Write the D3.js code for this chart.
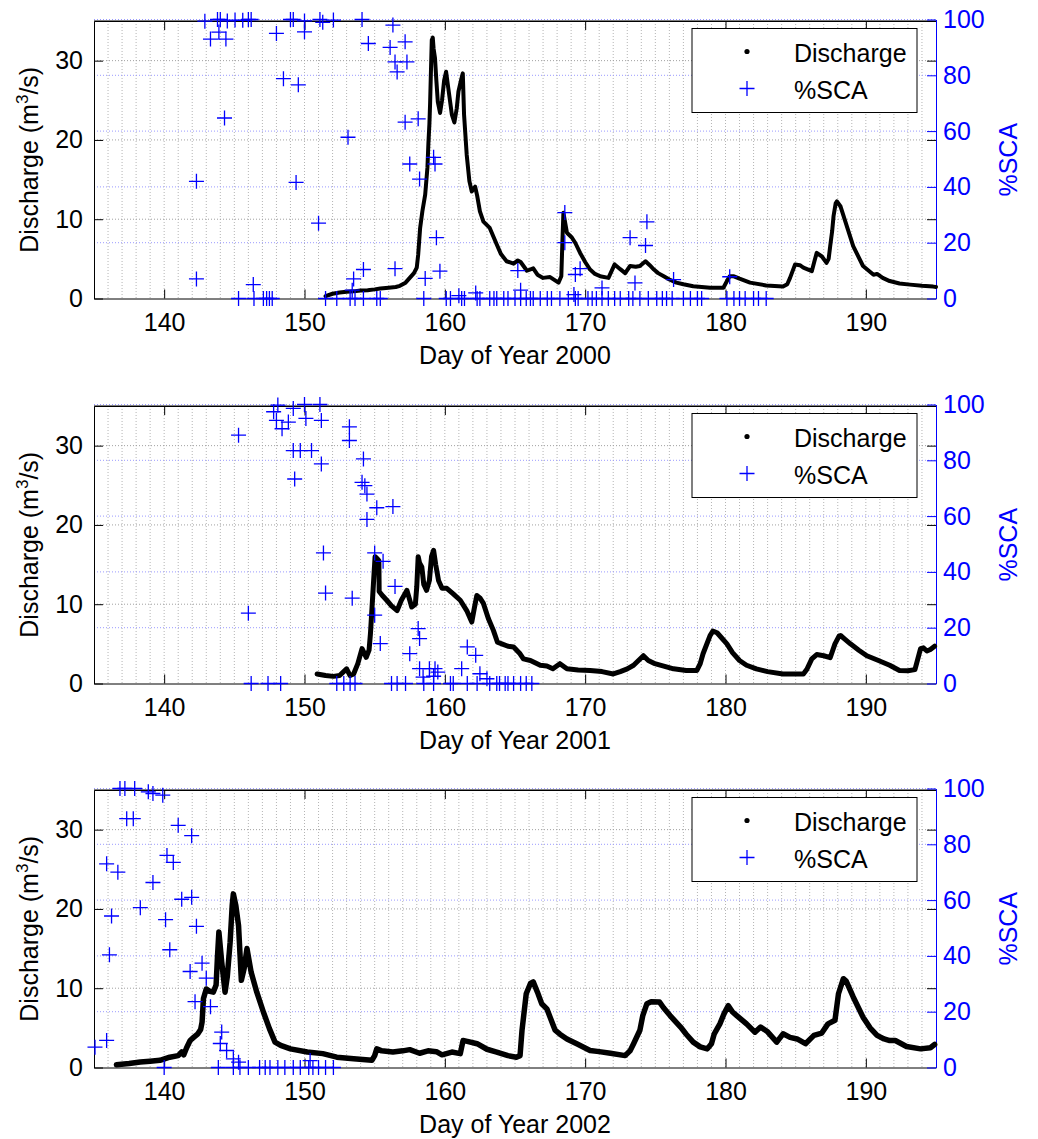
<!DOCTYPE html>
<html>
<head>
<meta charset="utf-8">
<script src="https://cdn.jsdelivr.net/npm/d3@7"></script>
<style>
  body { margin: 0; background: #fff; }
  text { font-family: "Liberation Sans", Arial, sans-serif; }
</style>
</head>
<body>
<script>
// discharge (day of year, m3/s)
var discharge2000 = [
  [151.5,0.3],[152.0,0.6],[152.5,0.75],[153.0,0.85],[153.5,0.9],[154.0,1.0],[154.5,1.05],[155.0,1.15],
  [155.4,1.25],[156.0,1.35],[156.5,1.45],[156.8,1.6],[157.2,2.0],[157.5,2.6],[157.8,3.2],[158.0,3.9],
  [158.1,5.5],[158.24,8.9],[158.4,11.0],[158.6,13.1],[158.76,16.5],[158.83,19.6],[158.9,22.0],[158.95,24.6],
  [159.0,28.0],[159.07,32.6],[159.14,32.9],[159.2,31.5],[159.3,30.3],[159.4,27.4],[159.5,24.8],[159.66,23.4],
  [159.8,25.0],[159.95,27.5],[160.09,28.6],[160.25,26.5],[160.5,23.2],[160.68,22.2],[160.85,24.0],[160.97,26.1],
  [161.15,27.5],[161.28,28.4],[161.37,23.2],[161.56,18.1],[161.75,14.8],[161.92,13.5],[162.16,14.1],[162.3,13.0],
  [162.5,11.0],[162.75,9.7],[163.2,8.9],[163.7,6.8],[164.0,5.6],[164.4,4.7],[164.9,4.4],[165.2,4.8],
  [165.4,4.6],[165.85,3.5],[166.3,3.8],[166.6,3.0],[167.0,2.6],[167.5,2.7],[168.1,2.0],[168.3,2.8],
  [168.38,7.3],[168.45,10.8],[168.7,8.3],[169.05,7.7],[169.3,7.0],[169.64,5.75],[170.0,4.6],[170.35,3.65],
  [170.7,3.1],[171.07,2.8],[171.66,2.6],[172.1,4.3],[172.5,3.7],[172.85,3.2],[173.2,4.1],[173.6,4.0],
  [173.9,4.1],[174.3,4.7],[174.6,4.2],[174.9,3.65],[175.2,3.2],[175.6,2.8],[176.0,2.4],[176.5,2.0],
  [177.0,1.8],[177.7,1.55],[178.3,1.45],[178.9,1.35],[179.5,1.35],[179.85,1.35],[180.1,2.2],[180.3,2.8],
  [180.6,2.8],[181.0,2.5],[181.75,2.0],[182.9,1.65],[184.1,1.5],[184.4,1.8],[184.6,2.6],[184.96,4.3],
  [185.3,4.2],[185.55,3.9],[186.15,3.45],[186.35,4.8],[186.5,5.75],[186.87,5.3],[187.2,4.5],[187.35,5.0],
  [187.46,6.6],[187.6,8.5],[187.7,10.4],[187.85,12.0],[187.94,12.25],[188.2,11.6],[188.65,9.1],[189.1,6.6],
  [189.8,4.1],[190.55,3.0],[190.8,3.1],[191.2,2.6],[191.7,2.2],[192.4,1.9],[193.15,1.75],[194.0,1.6],
  [194.8,1.5],[195.0,1.45]
];
var discharge2001 = [
  [150.9,1.2],[151.5,1.0],[152.06,0.9],[152.5,1.0],[153.0,1.85],[153.25,1.0],[153.5,1.2],[153.8,2.5],
  [154.1,4.4],[154.4,3.3],[154.6,4.2],[154.7,6.3],[154.9,12.2],[155.03,16.0],[155.15,15.8],[155.3,15.5],
  [155.32,11.6],[155.6,11.0],[155.86,10.5],[156.2,9.8],[156.6,9.2],[156.9,10.5],[157.3,11.75],[157.64,9.65],
  [157.9,10.0],[158.0,12.2],[158.1,16.0],[158.2,15.2],[158.36,14.7],[158.5,12.5],[158.7,11.75],[158.9,13.0],
  [159.05,16.0],[159.2,16.8],[159.35,15.0],[159.55,13.0],[159.8,12.0],[160.14,12.0],[160.6,11.3],[161.1,10.5],
  [161.56,9.2],[161.92,7.75],[162.1,9.5],[162.28,11.1],[162.5,10.8],[162.75,10.1],[163.1,8.2],[163.46,6.7],
  [163.75,5.2],[164.06,5.0],[164.5,4.7],[164.9,4.6],[165.36,3.75],[165.6,3.1],[166.1,2.9],[166.8,2.3],
  [167.27,2.2],[167.7,1.85],[168.2,2.5],[168.7,1.85],[169.5,1.7],[170.35,1.65],[171.2,1.5],[172.0,1.2],
  [172.5,1.5],[173.0,1.85],[173.45,2.3],[173.8,2.9],[174.15,3.5],[174.5,2.9],[174.9,2.55],[175.6,2.2],
  [176.3,1.85],[177.2,1.65],[177.96,1.65],[178.2,2.5],[178.4,3.75],[178.9,6.05],[179.1,6.6],[179.4,6.4],
  [179.7,5.8],[180.1,5.0],[180.5,3.9],[181.0,2.9],[181.5,2.3],[182.2,1.85],[183.0,1.5],[184.1,1.2],
  [185.0,1.2],[185.55,1.2],[185.8,1.8],[186.15,3.1],[186.5,3.65],[187.0,3.5],[187.46,3.25],[187.8,5.0],
  [188.1,6.0],[188.2,6.05],[188.5,5.6],[188.9,5.0],[189.5,4.2],[190.07,3.5],[190.9,2.9],[191.7,2.3],
  [192.4,1.65],[193.0,1.6],[193.5,1.75],[193.9,4.4],[194.1,4.5],[194.35,4.1],[194.6,4.3],[194.9,4.7]
];
var discharge2002 = [
  [136.6,0.35],[137.5,0.5],[138.3,0.7],[139.0,0.8],[139.7,0.9],[140.4,1.3],[141.0,1.5],[141.25,1.95],
  [141.4,1.6],[141.6,2.5],[141.85,3.4],[142.1,3.8],[142.4,4.25],[142.6,4.8],[142.7,5.7],[142.8,8.7],
  [143.0,9.9],[143.25,9.6],[143.5,9.5],[143.7,10.4],[143.8,14.0],[143.9,17.1],[144.1,13.3],[144.34,9.5],
  [144.5,11.5],[144.7,15.8],[144.85,20.5],[144.93,21.9],[145.1,20.5],[145.3,17.9],[145.5,11.0],[145.7,12.5],
  [145.9,15.0],[146.2,12.0],[146.6,9.5],[147.07,7.0],[147.5,4.9],[147.9,3.2],[148.3,2.8],[149.0,2.35],
  [150.2,1.95],[151.3,1.75],[152.3,1.3],[153.5,1.1],[154.8,0.9],[155.0,1.5],[155.15,2.35],[155.5,2.1],
  [156.3,1.95],[157.0,2.1],[157.5,2.25],[158.2,1.8],[158.8,2.1],[159.4,2.0],[159.8,1.6],[160.5,1.95],
  [161.1,1.75],[161.3,3.4],[161.6,3.3],[162.3,3.0],[163.0,2.3],[163.7,1.95],[164.5,1.5],[165.1,1.3],
  [165.36,1.5],[165.5,4.7],[165.8,9.3],[166.1,10.6],[166.3,10.8],[166.6,9.5],[166.9,8.05],[167.27,7.4],
  [167.86,4.7],[168.2,4.2],[168.7,3.6],[169.4,3.0],[170.35,2.15],[171.0,2.0],[171.8,1.8],[172.85,1.5],
  [173.2,2.1],[173.45,3.0],[173.9,4.7],[174.1,6.5],[174.4,8.05],[174.7,8.3],[175.3,8.25],[175.6,7.5],
  [176.05,6.55],[176.8,5.1],[177.2,4.2],[177.7,3.2],[178.2,2.6],[178.7,2.35],[179.0,3.0],[179.2,4.25],
  [179.6,5.5],[179.9,6.8],[180.2,7.8],[180.5,7.0],[180.8,6.55],[181.5,5.5],[182.1,4.45],[182.5,5.1],
  [183.0,4.5],[183.65,3.2],[184.1,4.25],[184.6,3.8],[185.1,3.6],[185.7,3.0],[186.3,4.05],[186.86,4.35],
  [187.3,5.5],[187.8,5.95],[188.05,9.3],[188.4,11.2],[188.6,10.9],[189.1,8.9],[189.8,6.35],[190.3,5.0],
  [190.8,4.05],[191.3,3.6],[191.7,3.4],[192.1,3.4],[192.9,2.65],[193.9,2.35],[194.6,2.5],[194.9,2.9]
];

// snow covered area (day of year, %)
var sca2000 = [
  [142.3,42],[142.3,7],[142.9,99.4],[143.3,93],[143.8,100],[143.9,95.5],[144.0,100],[144.4,93],[144.3,64.7],
  [144.5,99.5],[145.05,99.8],[145.6,99.7],[146.0,100],[146.2,100],[145.3,0],[146.35,5],[146.4,0],[147.07,0],
  [147.3,0],[147.5,0],[147.7,0],[148.0,95],[148.5,78.8],[149.0,100],[149.2,100],[149.56,76.6],[149.4,41.6],
  [150.0,95.6],[150.0,99.5],[151.0,27],[151.1,100],[151.3,99],[151.5,0],[152.06,99.8],[152.3,0],[153.1,57.8],
  [153.5,7],[153.4,3],[153.25,0],[153.6,0],[154.2,10.4],[154.1,100],[154.55,91.4],[154.2,0],[155.15,0],
  [155.4,0],[156.3,98],[156.1,90],[156.45,84.8],[156.6,81.2],[156.45,10.7],[157.17,92],[157.3,84.8],
  [157.17,63.2],[157.5,48.2],[158.2,42.8],[158.1,64.4],[158.6,7.2],[158.5,0],[159.2,50.6],[159.3,48.2],
  [159.4,21.8],[159.65,9.8],[160.1,0],[160.4,0],[161.0,1],[161.2,0],[161.4,0],[162.2,2],[162.3,0],[162.5,0],
  [163.2,0],[163.5,0],[163.7,0],[164.2,0],[164.5,0],[165.0,0],[165.2,10],[165.4,3],[165.4,0],[165.8,0],
  [166.1,0],[166.3,0],[166.8,0],[167.3,0],[167.6,0],[168.2,0],[168.55,30.8],[168.55,20],[168.8,0],
  [169.2,1.4],[169.3,8.6],[169.64,10.7],[169.3,0],[169.5,0],[170.2,0],[170.5,0],[170.8,0],[171.2,3.8],
  [171.2,0],[171.65,0],[172.1,0],[172.5,0],[173.1,0],[173.2,21.8],[173.4,0],[173.55,5.6],[173.9,0],
  [174.3,19],[174.4,27.5],[174.5,0],[175.1,0],[175.5,0],[175.8,0],[176.2,0],[176.3,6.8],[177.0,0],
  [177.5,0],[178.0,0],[178.3,0],[180.1,0],[180.3,7.8],[180.6,0],[181.0,0],[181.4,0],[182.0,0],[182.35,0],
  [182.9,0]
];
var sca2001 = [
  [145.3,89],[146.0,25.2],[146.2,0],[147.4,0],[148.3,0],[147.8,97.4],[148.0,94.3],[148.1,99.8],[148.4,91.3],
  [148.85,93.7],[149.2,98.6],[149.2,83.5],[149.3,73.3],[149.7,83.5],[150.0,100],[150.1,95],[150.5,83.5],
  [151.1,100],[151.2,94.3],[151.2,78.7],[151.35,46.8],[151.5,32.4],[153.2,92],[153.2,87.1],[153.4,30.6],
  [152.3,0],[152.8,0],[153.25,0],[153.6,0],[154.2,80.5],[154.1,72.1],[154.3,70.9],[154.45,67.9],[154.45,58.8],
  [155.15,63],[156.3,63.4],[155.0,46.8],[155.6,43.8],[155.0,24.5],[155.4,14.3],[156.45,34.8],[157.5,10.7],
  [158.1,19.7],[158.2,16.1],[158.2,5.3],[158.45,2.3],[158.9,5.3],[159.3,5.3],[159.5,4.1],[159.2,2.6],
  [161.2,5.3],[161.6,13.1],[162.2,10.1],[162.5,3.5],[163.0,1.7],[156.2,0],[156.6,0],[157.2,0],[158.5,0],
  [159.2,0],[160.4,0],[160.6,0],[161.6,0],[162.3,0],[163.2,0],[163.7,0],[163.9,0],[164.3,0],[164.5,0],
  [164.9,0],[165.4,0],[165.8,0],[166.2,0]
];
var sca2002 = [
  [135.07,7.3],[135.9,9.7],[135.9,73],[136.1,40.4],[136.25,54.3],[136.7,70],[136.85,100],[137.2,100],
  [137.33,89.2],[137.9,100],[137.8,89.2],[138.3,57.3],[138.87,98.8],[139.2,98.2],[139.2,66.3],[139.9,97.6],
  [140.1,53],[140.0,0],[140.2,76],[140.4,42.2],[140.65,73.5],[141.0,86.8],[141.25,60.3],[141.96,83.1],
  [141.96,61],[142.3,50.6],[141.85,34.4],[142.2,23.6],[142.7,37.4],[143.0,32],[143.3,21.8],[144.1,12.7],
  [144.0,8.6],[144.45,6.1],[144.93,3.1],[145.3,1.9],[143.86,0],[144.93,0],[145.4,0],[146.0,0],[146.8,0],
  [147.2,0],[147.54,0],[148.1,0],[148.6,0],[149.2,0],[149.7,0],[150.3,0],[150.6,0],[151.0,0],[151.5,0],
  [152.06,0],[150.4,2.5]
];

var years = ["2000", "2001", "2002"];
var dischargeSets = [discharge2000, discharge2001, discharge2002];
var scaSets = [sca2000, sca2001, sca2002];
var dayTicks = [140, 150, 160, 170, 180, 190];
var qTicks = [0, 10, 20, 30];
var scaTicks = [0, 20, 40, 60, 80, 100];

var w = 1038, h = 1139;
var left = 94, pw = 842, ph = 277.5;
var panelTops = [21, 406, 790];
var lineWidths = [4, 5, 5.5];
var blue = "#0000ff";

var svg = d3.select("body").append("svg")
  .attr("width", w).attr("height", h);
svg.append("rect").attr("width", w).attr("height", h).attr("fill", "#fff");

var xScale = d3.scaleLinear().domain([135, 195]).range([0, pw]);
var yQ = d3.scaleLinear().domain([0, 35]).range([ph, 0]);
var yS = d3.scaleLinear().domain([0, 100]).range([ph, -1.5]);

var plus = "M-7.5,0H7.5M0,-7.5V7.5";

years.forEach(function(yr, i) {
  var g = svg.append("g")
    .attr("transform", "translate(" + left + "," + panelTops[i] + ")");

  // grid, one line a day
  g.append("g").selectAll("line")
    .data(d3.range(136, 195))
    .enter().append("line")
    .attr("x1", function(d) { return xScale(d); })
    .attr("x2", function(d) { return xScale(d); })
    .attr("y1", 0).attr("y2", ph)
    .attr("stroke", "#b4b4b4").attr("stroke-width", 1)
    .attr("stroke-dasharray", "1,2");

  g.append("g").selectAll("line")
    .data([10, 20, 30])
    .enter().append("line")
    .attr("x1", 0).attr("x2", pw)
    .attr("y1", function(d) { return yQ(d); })
    .attr("y2", function(d) { return yQ(d); })
    .attr("stroke", "#a0a0a0").attr("stroke-dasharray", "1,2");

  g.append("g").selectAll("line")
    .data([20, 40, 60, 80, 100])
    .enter().append("line")
    .attr("x1", 0).attr("x2", pw)
    .attr("y1", function(d) { return yS(d); })
    .attr("y2", function(d) { return yS(d); })
    .attr("stroke", "#9a9aff").attr("stroke-dasharray", "1,2");

  // axes
  var xAxis = g.append("g")
    .attr("transform", "translate(0," + ph + ")")
    .call(d3.axisBottom(xScale).tickValues(dayTicks).tickSize(-9).tickSizeOuter(0).tickPadding(15));
  var xTop = g.append("g")
    .call(d3.axisTop(xScale).tickValues(dayTicks).tickSize(-9).tickSizeOuter(0).tickFormat(""));
  var yAxis = g.append("g")
    .call(d3.axisLeft(yQ).tickValues(qTicks).tickSize(-9).tickSizeOuter(0).tickPadding(11));
  var yRightQ = g.append("g")
    .attr("transform", "translate(" + pw + ",0)")
    .call(d3.axisRight(yQ).tickValues([10, 20, 30]).tickSize(-9).tickSizeOuter(0).tickFormat(""));
  yRightQ.select(".domain").remove();
  g.append("line").attr("x1", 0).attr("x2", pw).attr("y1", 0).attr("y2", 0).attr("stroke", "#000");

  [xAxis, xTop, yAxis, yRightQ].forEach(function(a) {
    a.selectAll("path, line").attr("stroke", "#000");
    a.selectAll("text").attr("fill", "#000").style("font-size", "25px")
      .style("font-family", "Liberation Sans, Arial, sans-serif");
  });

  var sAxis = g.append("g")
    .attr("transform", "translate(" + pw + ",0)")
    .call(d3.axisRight(yS).tickValues(scaTicks).tickSize(-9).tickSizeOuter(0).tickPadding(7));
  sAxis.selectAll("path, line").attr("stroke", blue);
  sAxis.selectAll("text").attr("fill", blue).style("font-size", "25px")
    .style("font-family", "Liberation Sans, Arial, sans-serif");

  // discharge
  var line = d3.line()
    .x(function(d) { return xScale(d[0]); })
    .y(function(d) { return yQ(d[1]); });
  g.append("path")
    .datum(dischargeSets[i])
    .attr("d", line)
    .attr("fill", "none")
    .attr("stroke", "#000")
    .attr("stroke-width", lineWidths[i])
    .attr("stroke-linejoin", "round")
    .attr("stroke-linecap", "round");

  // %SCA
  g.append("g").selectAll("path")
    .data(scaSets[i])
    .enter().append("path")
    .attr("transform", function(d) { return "translate(" + xScale(d[0]) + "," + yS(d[1]) + ")"; })
    .attr("d", plus)
    .attr("fill", "none")
    .attr("stroke", blue)
    .attr("stroke-width", 1.3);

  // labels
  g.append("text")
    .attr("x", pw / 2).attr("y", ph + 65)
    .attr("text-anchor", "middle")
    .style("font-size", "25px")
    .text("Day of Year " + yr);

  var lab = g.append("text")
    .attr("transform", "translate(-56," + (ph / 2) + ") rotate(-90)")
    .attr("text-anchor", "middle")
    .style("font-size", "25px");
  lab.append("tspan").text("Discharge (m");
  lab.append("tspan").attr("dy", -10).style("font-size", "17px").text("3");
  lab.append("tspan").attr("dy", 10).text("/s)");

  g.append("text")
    .attr("transform", "translate(923," + (ph / 2) + ") rotate(-90)")
    .attr("text-anchor", "middle")
    .attr("fill", blue)
    .style("font-size", "25px")
    .text("%SCA");

  // legend
  var lg = g.append("g").attr("transform", "translate(598,7.5)");
  lg.append("rect").attr("width", 225).attr("height", 84)
    .attr("fill", "#fff").attr("stroke", "#000").attr("stroke-width", 1);
  lg.append("circle").attr("cx", 55).attr("cy", 23).attr("r", 2.6).attr("fill", "#000");
  lg.append("text").attr("x", 102).attr("y", 33).style("font-size", "25px").text("Discharge");
  lg.append("path").attr("transform", "translate(55,60)").attr("d", plus)
    .attr("stroke", blue).attr("stroke-width", 1.3);
  lg.append("text").attr("x", 102).attr("y", 70.5).style("font-size", "25px").text("%SCA");
});
</script>
</body>
</html>
